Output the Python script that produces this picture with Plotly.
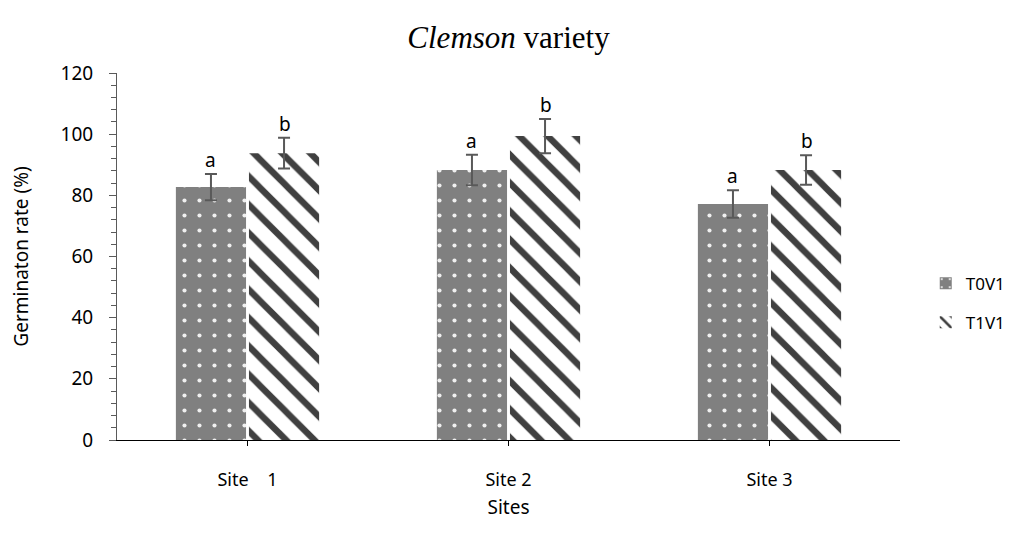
import plotly.graph_objects as go

sites = ["Site\u00a0\u00a0\u00a0\u00a01", "Site 2", "Site 3"]
t0v1 = [82.7, 88.3, 77.2]
t0v1_err = [4.3, 5.0, 4.5]
t1v1 = [93.8, 99.4, 88.3]
t1v1_err = [5.0, 5.6, 4.8]
t0v1_letters = ["a", "a", "a"]
t1v1_letters = ["b", "b", "b"]

FONT = "Noto Sans"

fig = go.Figure()
fig.add_trace(go.Bar(
    name="T0V1", x=sites, y=t0v1, legendgroup="g0",
    error_y=dict(type="data", array=t0v1_err, color="#595959", thickness=2, width=6),
    marker=dict(color="#808080", line=dict(width=0),
                pattern=dict(shape=".", fgcolor="#f0f0f0", bgcolor="#808080", size=15,
                             solidity=0.06, fgopacity=1)),
))
fig.add_trace(go.Bar(
    name="T1V1", x=sites, y=t1v1, legendgroup="g1",
    error_y=dict(type="data", array=t1v1_err, color="#595959", thickness=2, width=6),
    marker=dict(color="#ffffff", line=dict(width=0),
                pattern=dict(shape="\\", fgcolor="#404040", bgcolor="#ffffff", size=20,
                             solidity=0.32, fgopacity=1)),
))

for i, s in enumerate(sites):
    fig.add_annotation(x=s, y=t0v1[i] + t0v1_err[i], text=t0v1_letters[i], xref="x", yref="y",
                       showarrow=False, yanchor="bottom", xshift=-37, yshift=-1,
                       font=dict(family=FONT, size=19, color="#000"))
    fig.add_annotation(x=s, y=t1v1[i] + t1v1_err[i], text=t1v1_letters[i], xref="x", yref="y",
                       showarrow=False, yanchor="bottom", xshift=37, yshift=-1,
                       font=dict(family=FONT, size=19, color="#000"))

fig.update_layout(
    width=1003, height=532,
    margin=dict(l=109, r=111, t=65, b=100, autoexpand=False),
    paper_bgcolor="white", plot_bgcolor="white",
    barmode="group", bargap=0.44, bargroupgap=0.04,
    title=dict(text="<i>Clemson</i> variety", x=0.5, xref="paper", xanchor="center",
               y=0.945, yref="container", yanchor="middle",
               font=dict(family="Liberation Serif", size=31, color="#000")),
    font=dict(family=FONT, size=18, color="#000"),
    legend=dict(x=0.915, xref="container", y=0.373, xanchor="left", yanchor="middle",
                font=dict(family=FONT, size=17), tracegroupgap=14, itemwidth=30),
    showlegend=True,
)
fig.update_yaxes(
    range=[0, 120], dtick=20, showgrid=False, zeroline=False,
    showline=True, linecolor="#5a5a5a", linewidth=1,
    ticks="outside", ticklen=7, tickcolor="#5a5a5a", ticklabelstandoff=12,
    minor=dict(dtick=4, ticks="outside", ticklen=5, tickcolor="#5a5a5a", showgrid=False),
    title=dict(text="Germinaton rate (%)", font=dict(family=FONT, size=19), standoff=28),
    tickfont=dict(family=FONT, size=19),
)
fig.update_xaxes(
    showline=True, linecolor="#000", linewidth=1, showgrid=False,
    ticks="outside", ticklen=5, tickcolor="#000", ticklabelstandoff=18,
    title=dict(text="Sites", font=dict(family=FONT, size=19), standoff=11),
    tickfont=dict(family=FONT, size=18),
)

fig.write_html("out.html")
